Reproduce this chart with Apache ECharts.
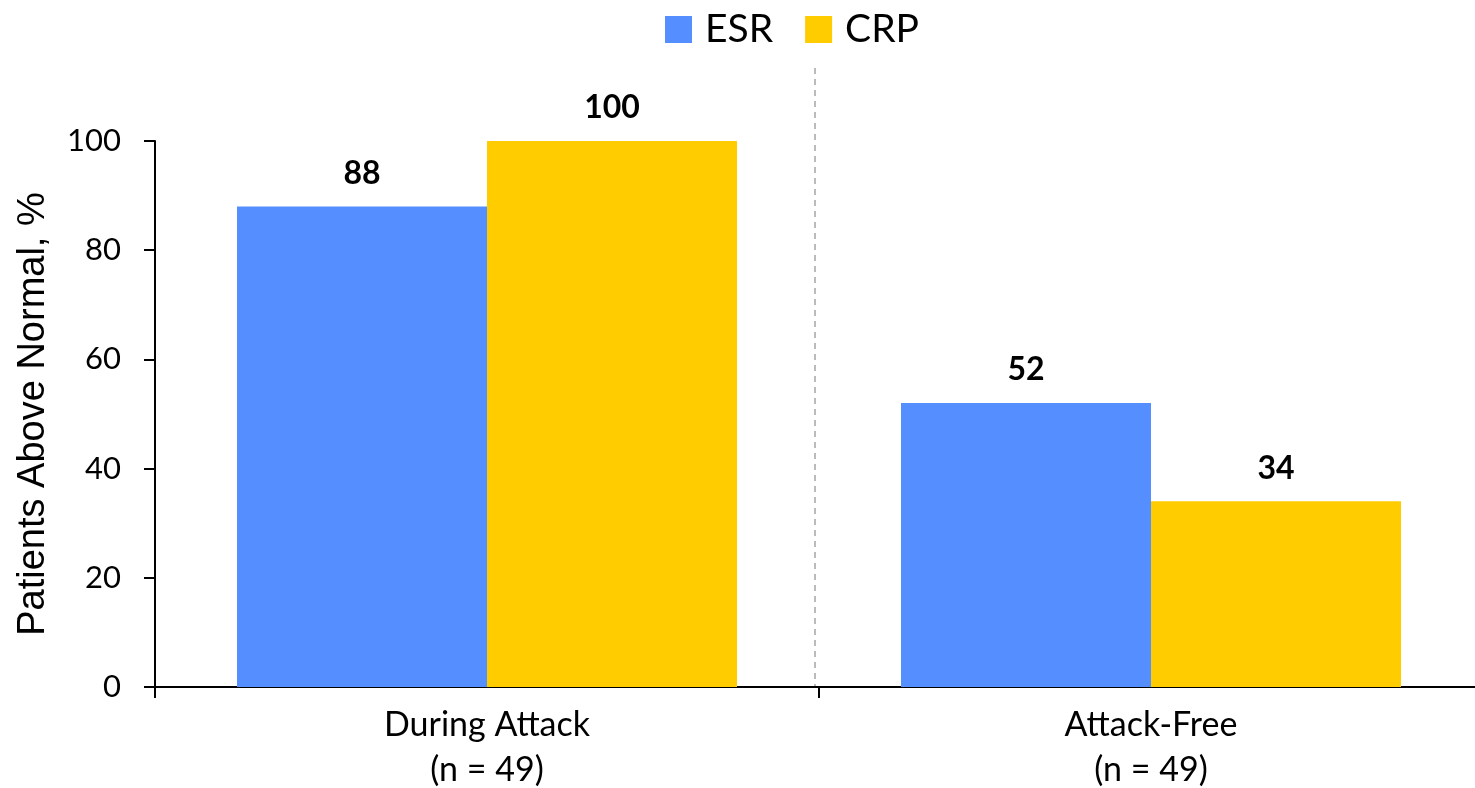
<!DOCTYPE html>
<html>
<head>
<meta charset="utf-8">
<script src="https://cdn.jsdelivr.net/npm/echarts@6/dist/echarts.min.js"></script>
<style>
  html, body { margin: 0; padding: 0; background: #fff; }
  #chart { width: 1475px; height: 788px; }
</style>
</head>
<body>
<div id="chart"></div>
<script>
// Share of patients with values above normal, by phase
const categories = ['During Attack\n(n = 49)', 'Attack-Free\n(n = 49)'];
const esrValues = [88, 52];
const crpValues = [100, 34];
const yTicks = { min: 0, max: 100, interval: 20 };

const FONT = 'Lato, "Open Sans", sans-serif';

const chart = echarts.init(document.getElementById('chart'), null, { renderer: 'canvas' });

const barLabel = {
  show: true,
  position: 'top',
  distance: 17,
  color: '#000',
  fontFamily: FONT,
  fontWeight: 'bold',
  fontSize: 32
};

chart.setOption({
  backgroundColor: '#fff',
  animation: false,
  legend: {
    data: ['ESR', 'CRP'],
    left: 660,
    top: 5,
    itemWidth: 27,
    itemHeight: 27,
    itemGap: 32,
    icon: 'rect',
    textStyle: { fontFamily: FONT, fontSize: 39, color: '#000', padding: [0, 0, 0, 8] }
  },
  grid: { left: 155, right: -8, top: 141, bottom: 101, containLabel: false, outerBoundsMode: 'none' },
  xAxis: {
    type: 'category',
    data: categories,
    boundaryGap: true,
    axisLine: { lineStyle: { color: '#000', width: 2 } },
    axisTick: { show: true, length: 11, lineStyle: { color: '#000', width: 2 } },
    axisLabel: { color: '#000', fontFamily: FONT, fontSize: 34, lineHeight: 45, margin: 16 }
  },
  yAxis: {
    type: 'value',
    min: yTicks.min,
    max: yTicks.max,
    interval: yTicks.interval,
    name: 'Patients Above Normal, %',
    nameLocation: 'middle',
    nameGap: 102,
    nameTextStyle: { fontFamily: '"Liberation Sans", Arial, sans-serif', fontSize: 38, color: '#000' },
    axisLine: { show: true, lineStyle: { color: '#000', width: 2 } },
    axisTick: { show: true, length: 11, lineStyle: { color: '#000', width: 2 } },
    axisLabel: { color: '#000', fontFamily: FONT, fontSize: 31, margin: 34 },
    splitLine: { show: false }
  },
  series: [
    {
      name: 'ESR',
      type: 'bar',
      data: esrValues,
      barWidth: 250,
      barGap: '0%',
      itemStyle: { color: '#558EFF' },
      label: barLabel
    },
    {
      name: 'CRP',
      type: 'bar',
      data: crpValues,
      barWidth: 250,
      barGap: '0%',
      itemStyle: { color: '#FFCC00' },
      label: barLabel
    }
  ]
});

// Dashed separator on the boundary between the two categories
const c0 = chart.convertToPixel({ xAxisIndex: 0 }, 0);
const c1 = chart.convertToPixel({ xAxisIndex: 0 }, 1);
const sepX = Math.round((c0 + c1) / 2) - 4;
const baseY = chart.convertToPixel({ yAxisIndex: 0 }, 0);
chart.setOption({
  graphic: [{
    type: 'line',
    z: 0,
    shape: { x1: sepX, y1: 68, x2: sepX, y2: baseY },
    style: { stroke: '#BBBBBB', lineWidth: 2, lineDash: [6, 5] }
  }]
});
</script>
</body>
</html>
